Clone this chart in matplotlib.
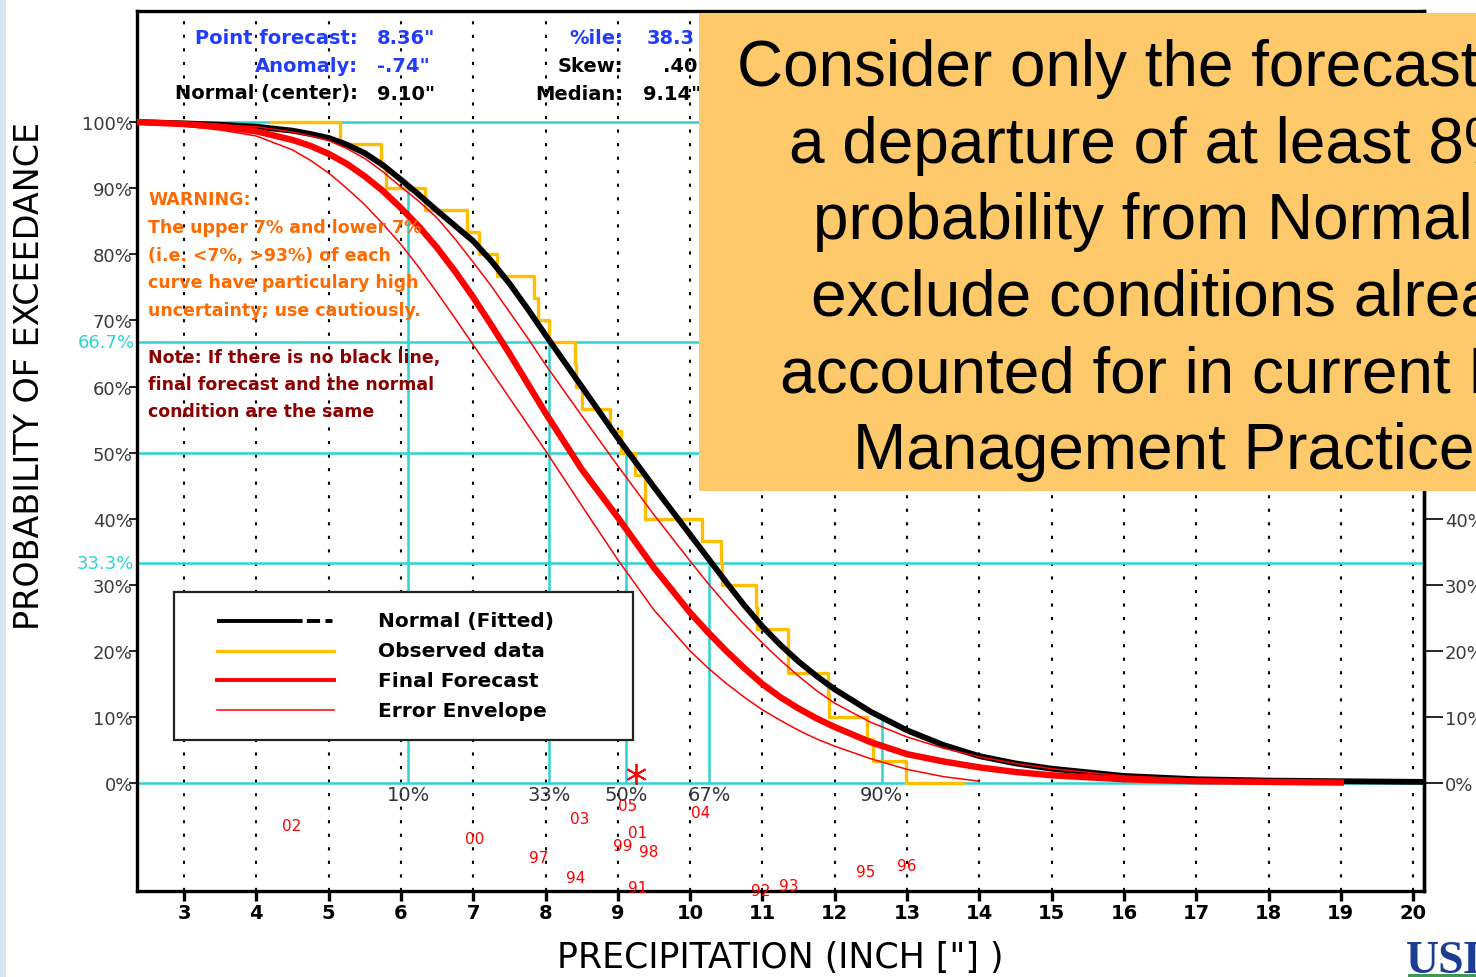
import matplotlib.pyplot as plt
import numpy as np
from matplotlib.patches import Rectangle
from matplotlib.lines import Line2D

W, H = 1476, 978

# precipitation (inch) where the smooth curves are sampled
curve_x = [2.35, 3, 3.5, 4, 4.5, 4.75, 5, 5.25, 5.5, 5.75, 6, 6.25, 6.5, 6.75, 7,
           7.25, 7.5, 7.75, 8, 8.5, 9, 9.5, 10, 10.25, 10.5, 10.75, 11, 11.25,
           11.5, 11.75, 12, 12.5, 13, 13.5, 14, 14.5, 15, 16, 17, 18, 19, 20.15]

# probability of exceedance (%)
normal_pct = [100, 99.8, 99.6, 99.3, 98.7, 98.2, 97.6, 96.6, 95.3, 93.5, 91.3,
              89.0, 86.6, 84.3, 82.0, 79.0, 75.6, 71.8, 67.8, 60.0, 52.2, 44.8,
              37.6, 34.0, 30.4, 26.9, 23.7, 20.9, 18.4, 16.2, 14.2, 10.8, 8.0,
              5.8, 4.1, 3.0, 2.2, 1.1, 0.6, 0.4, 0.3, 0.2]
forecast_pct = [100, 99.7, 99.3, 98.6, 97.3, 96.4, 95.2, 93.7, 91.8, 89.6, 87.0,
                84.2, 81.0, 77.4, 73.5, 69.3, 65.0, 60.5, 56.0, 47.5, 40.2, 32.6,
                25.8, 22.8, 20.0, 17.4, 15.0, 13.0, 11.3, 9.8, 8.5, 6.2, 4.4,
                3.3, 2.4, 1.7, 1.2, 0.6, 0.3, 0.2, 0.1]
upper_pct = [100, 99.8, 99.6, 99.3, 98.5, 97.9, 97.2, 96.0, 94.5, 92.5, 90.2,
             88.0, 85.5, 82.3, 78.8, 75.2, 71.3, 67.4, 63.3, 55.6, 48.0, 40.6,
             33.6, 30.2, 27.0, 24.0, 21.2, 18.6, 16.2, 14.0, 12.1, 9.2, 7.0,
             5.3, 4.0, 3.0, 2.2, 1.1, 0.6, 0.35, 0.2]
lower_pct = [99.9, 99.4, 98.8, 97.9, 95.8, 94.2, 92.3, 90.0, 87.5, 84.6, 81.5,
             78.0, 74.2, 70.3, 66.3, 62.3, 58.3, 54.3, 50.3, 42.0, 33.8, 26.2,
             20.0, 17.4, 15.1, 13.0, 11.1, 9.5, 8.0, 6.7, 5.6, 3.7, 2.1, 1.0, 0.3]

# observed seasonal totals (inch), sorted
observed = [5.16, 5.72, 5.80, 6.33, 6.91, 7.08, 7.33, 7.84, 7.89, 8.05,
            8.41, 8.42, 8.50, 8.89, 9.04, 9.24, 9.37, 9.38, 10.16, 10.43,
            10.44, 10.91, 10.92, 11.35, 11.36, 11.91, 11.92, 12.44, 12.53, 12.99]
obs_start, obs_end = 4.2, 13.77

# percentiles of the fitted normal
pct_labels = ['10%', '33%', '50%', '67%', '90%']
pct_x = [6.10, 8.05, 9.12, 10.26, 12.65]
pct_exceed = [90, 66.7, 50, 33.3, 10]
ref_levels = [100, 66.7, 50, 33.3, 0]

# individual years
year_labels = ['02', '00', '03', '97', '94', '05', '01', '99', '98', '91',
               '04', '92', '93', '95', '96']
year_x = [4.49, 7.02, 8.47, 7.91, 8.42, 9.13, 9.27, 9.07, 9.43, 9.27,
          10.14, 10.97, 11.37, 12.43, 12.99]
year_y = [-6.4, -8.3, -5.4, -11.3, -14.3, -3.3, -7.4, -9.4, -10.4, -15.7,
          -4.4, -16.2, -15.4, -13.4, -12.4]
star_x, star_y = 9.25, 1.4

CYAN = '#2fd3d3'
ORANGE = '#ffbf00'
RED = '#ff0000'
BLUE = '#1f3cff'


def fx(px):
    return px / W


def fy(py):
    return 1 - py / H


fig = plt.figure(figsize=(W / 100, H / 100), dpi=100)
fig.patch.set_facecolor('white')
ax = fig.add_axes([fx(137), fy(892), (1424 - 137) / W, (892 - 12) / H])
ax.set_xlim(2.35, 20.15)
ax.set_ylim(-16.3, 116.8)

# dotted verticals at every inch
for v in range(3, 21):
    ax.axvline(v, color='black', lw=1.5, ls=(0, (1.5, 5)), zorder=1)

# reference levels and percentile markers
for lev in ref_levels:
    ax.axhline(lev, color=CYAN, lw=1.8, zorder=2)
ax.vlines(pct_x, 0, pct_exceed, color=CYAN, lw=1.8, zorder=2)
for lab, xv in zip(pct_labels, pct_x):
    ax.text(xv, -1.7, lab, ha='center', va='center', fontsize=14, color='#333333')

# curves
steps_x = [obs_start] + observed + [obs_end]
n = len(observed)
steps_y = [100] + [100 * (n - k) / n for k in range(1, n + 1)] + [0]
ax.step(steps_x, steps_y, where='post', color=ORANGE, lw=2.4, zorder=3)
ax.plot(curve_x, normal_pct, color='black', lw=4.2, zorder=4)
ax.plot(curve_x[:len(upper_pct)], upper_pct, color=RED, lw=1.1, zorder=5)
ax.plot(curve_x[:len(lower_pct)], lower_pct, color=RED, lw=1.1, zorder=5)
ax.plot(curve_x[:len(forecast_pct)], forecast_pct, color=RED, lw=4.6, zorder=6)

# year annotations below the axis
for lab, xv, yv in zip(year_labels, year_x, year_y):
    ax.text(xv, yv, lab, ha='center', va='center', fontsize=11, color=RED)
ax.plot(star_x, star_y, marker=(6, 2, 0), ms=15, mew=1.3, color=RED, zorder=7)

# axes styling
for s in ax.spines.values():
    s.set_linewidth(2.4)
ax.set_xticks(range(3, 21))
ax.set_xticklabels([str(v) for v in range(3, 21)], fontsize=14, fontweight='bold')
ax.tick_params(axis='x', direction='out', length=7, width=2.4, pad=2)
yt = list(range(0, 101, 10))
ax.set_yticks(yt)
ax.set_yticklabels([f'{v}%' for v in yt], fontsize=13, color='#3a3a3a')
ax.tick_params(axis='y', direction='out', length=6, width=1.2, pad=-3)
yr = list(range(0, 41, 10))
ax2 = ax.secondary_yaxis('right')
ax2.set_yticks(yr)
ax2.set_yticklabels([f'{v}%' for v in yr], fontsize=13, color='#3a3a3a')
ax2.tick_params(direction='out', length=14, width=1.2, pad=1)
ax2.spines['right'].set_linewidth(2.4)
for lev in (66.7, 33.3):
    ax.text(-0.002, lev, f'{lev}%', transform=ax.get_yaxis_transform(),
            ha='right', va='center', fontsize=13, color=CYAN)

fig.text(fx(30), fy(376), 'PROBABILITY OF EXCEEDANCE', rotation=90,
         ha='center', va='center', fontsize=24)
fig.text(fx(780), fy(958), 'PRECIPITATION (INCH ["] )', ha='center',
         va='center', fontsize=25)

# summary block at the top of the plot
hdr = dict(fontsize=14, fontweight='bold', va='center')
rows_left = [('Point forecast:', '8.36"', BLUE, 39),
             ('Anomaly:', '-.74"', BLUE, 67),
             ('Normal (center):', '9.10"', 'black', 94)]
for lab, val, col, py in rows_left:
    fig.text(fx(358), fy(py), lab, ha='right', color=col, **hdr)
    fig.text(fx(377), fy(py), val, ha='left', color=col, **hdr)
rows_right = [('%ile:', '38.3', BLUE, 39, 647),
              ('Skew:', '.40', 'black', 67, 663),
              ('Median:', '9.14"', 'black', 94, 643)]
for lab, val, col, py, vx in rows_right:
    fig.text(fx(623), fy(py), lab, ha='right', color=col, **hdr)
    fig.text(fx(vx), fy(py), val, ha='left', color=col, **hdr)

warn = ['WARNING:', 'The upper 7% and lower 7%', '(i.e. <7%, >93%) of each',
        'curve have particulary high', 'uncertainty; use cautiously.']
for i, line in enumerate(warn):
    fig.text(fx(148), fy(200 + 27.8 * i), line, fontsize=12.5, fontweight='bold',
             color='#ff6a00', va='center')
note = ['Note: If there is no black line,', 'final forecast and the normal',
        'condition are the same']
for i, line in enumerate(note):
    fig.text(fx(148), fy(358 + 27 * i), line, fontsize=12.5, fontweight='bold',
             color='#8b0000', va='center')

# legend box
fig.add_artist(Rectangle((fx(174), fy(741)), (633 - 174) / W, (741 - 593) / H,
                         transform=fig.transFigure, facecolor='white',
                         edgecolor='#222222', lw=1.6, zorder=8))
legend_labels = ['Normal (Fitted)', 'Observed data', 'Final Forecast', 'Error Envelope']
legend_colors = ['black', ORANGE, RED, RED]
legend_widths = [2.8, 2.4, 2.8, 1.1]
legend_styles = [(0, (22, 1.1, 3.4, 1.4, 1.8, 5)), '-', '-', '-']
for i, (lab, col, lw, ls) in enumerate(zip(legend_labels, legend_colors,
                                           legend_widths, legend_styles)):
    py = 622 + 29.7 * i
    fig.add_artist(Line2D([fx(217), fx(334)], [fy(py), fy(py)], color=col, lw=lw,
                          ls=ls, transform=fig.transFigure, zorder=9))
    fig.text(fx(378), fy(py), lab, fontsize=14.5, fontweight='bold', va='center',
             zorder=9)

# note panel on the right
fig.add_artist(Rectangle((fx(699), fy(492)), (W - 699) / W, (492 - 14) / H,
                         transform=fig.transFigure, facecolor='#fdc96b',
                         edgecolor='none', zorder=20))
panel = [('Consider only the forecasts with', 737),
         ('a departure of at least 8% in', 789),
         ('probability from Normal, and', 813),
         ('exclude conditions already', 811),
         ('accounted for in current Best', 780),
         ('Management Practices.', 853)]
for i, (line, px) in enumerate(panel):
    fig.text(fx(px), fy(86 + 76.6 * i), line, fontsize=46, family='Liberation Sans',
             va='baseline', ha='left', zorder=21)

# slide edge and logo
fig.add_artist(Rectangle((0, 0), 6 / W, 1, transform=fig.transFigure,
                         facecolor='#d9e6f6', edgecolor='none', zorder=20))
fig.text(fx(1406), fy(973), 'USDA', fontsize=33, fontweight='bold',
         family='Liberation Serif', color='#1c3d94', va='baseline', zorder=21)
fig.add_artist(Rectangle((fx(1408), 0), (W - 1408) / W, 3 / H, transform=fig.transFigure,
                         facecolor='#3c9a54', edgecolor='none', zorder=21))

fig.savefig('out.png', dpi=100)
